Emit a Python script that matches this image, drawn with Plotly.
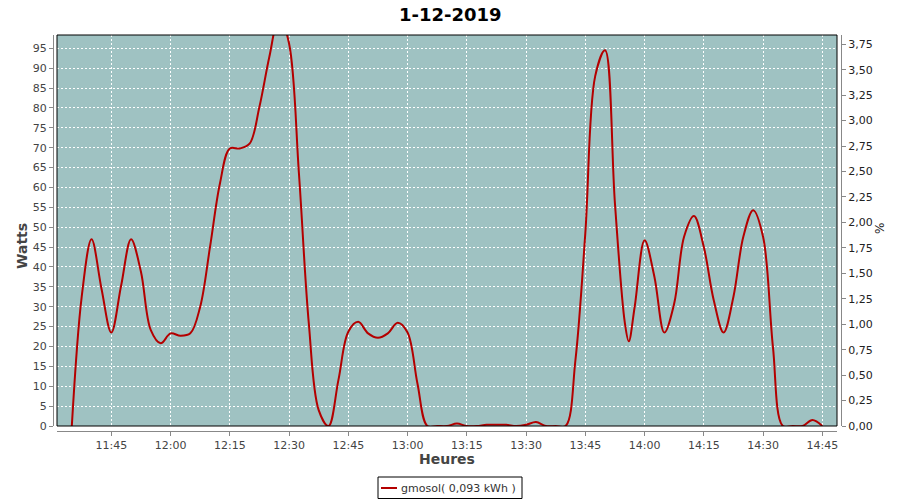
import plotly.graph_objects as go

# ---- data ----
times = [
    "11:35:00", "11:37:30", "11:40:00", "11:42:30", "11:45:00", "11:47:30",
    "11:50:00", "11:52:30", "11:55:00", "11:57:30", "12:00:00", "12:02:30",
    "12:05:00", "12:07:30", "12:10:00", "12:12:30", "12:15:00", "12:17:30",
    "12:20:00", "12:22:30", "12:25:00", "12:27:30", "12:30:00", "12:32:30",
    "12:35:00", "12:37:30", "12:40:00", "12:42:30", "12:45:00", "12:47:30",
    "12:50:00", "12:52:30", "12:55:00", "12:57:30", "13:00:00", "13:02:30",
    "13:05:00", "13:07:30", "13:10:00", "13:12:30", "13:15:00", "13:17:30",
    "13:20:00", "13:22:30", "13:25:00", "13:27:30", "13:30:00", "13:32:30",
    "13:35:00", "13:37:30", "13:40:00", "13:42:30", "13:45:00", "13:47:30",
    "13:50:00", "13:52:30", "13:55:00", "13:56:00", "13:57:30", "14:00:00",
    "14:02:30", "14:05:00", "14:07:30", "14:10:00", "14:12:30", "14:15:00",
    "14:17:30", "14:20:00", "14:22:30", "14:25:00", "14:27:30", "14:30:00",
    "14:32:30", "14:35:00", "14:37:30", "14:40:00", "14:42:30", "14:45:00",
]
watts = [
    0, 32.5, 47, 34.6, 23.5, 35.4,
    47, 38.8, 24.1, 20.8, 23.3, 22.7,
    23.3, 30, 45.1, 61, 69.8, 69.8,
    71, 80.3, 92.8, 103, 96.2, 63.5,
    25.8, 4, 0, 11.6, 23.7, 26.2,
    23.3, 22.2, 23.3, 26, 23.5, 10.7,
    0, 0, 0, 0.6, 0, 0,
    0.3, 0.3, 0.3, 0, 0.3, 1.0,
    0, 0, 0, 16.6, 48.5, 88,
    94.5, 56, 26, 21.3, 30, 46.7,
    37.5, 23.5, 30.8, 47.6, 52.8, 45,
    31.7, 23.5, 32.5, 47.6, 54.3, 47.6,
    19.9, 0, 0, 0, 1.5, 0,
]
series_name = "gmosol( 0,093 kWh )"
title_text = "1-12-2019"
x_tick_times = ["11:45", "12:00", "12:15", "12:30", "12:45", "13:00", "13:15",
                "13:30", "13:45", "14:00", "14:15", "14:30", "14:45"]
day = "2019-12-01"

# ---- layout geometry (pixel targets, converted to paper fractions) ----
W, H = 900, 500
L, R, T, B = 57, 837, 35, 426
xd = [L / W, R / W]
yd = [1 - B / H, 1 - T / H]
px = lambda v: v / W
py = lambda v: 1 - v / H

x_full = [f"{day} {t}" for t in times]
tickvals = [f"{day} {t}:00" for t in x_tick_times]

line_color = "#B40000"

fig = go.Figure()
fig.add_trace(go.Scatter(
    x=x_full, y=watts, mode="lines", name=series_name,
    line=dict(color=line_color, width=2, shape="spline", smoothing=1.0),
    xaxis="x", yaxis="y", showlegend=False,
))
# invisible trace for the right axis
fig.add_trace(go.Scatter(x=[x_full[0]], y=[0], mode="lines", showlegend=False,
                         hoverinfo="skip", line=dict(width=0), xaxis="x", yaxis="y2"))

tickfont = dict(family="DejaVu Sans", size=11, color="#444444")
gridcol = "#FFFFFF"

fig.update_layout(
    width=W, height=H,
    margin=dict(l=0, r=0, t=0, b=0),
    paper_bgcolor="white",
    plot_bgcolor="#9FC2C2",
    separators=",.",
    showlegend=False,
    xaxis=dict(
        domain=xd, anchor="free", position=py(430.5),
        type="date",
        range=[f"{day} 11:31:15", f"{day} 14:48:43"],
        tickmode="array", tickvals=tickvals, ticktext=x_tick_times,
        tickfont=tickfont, ticks="outside", ticklen=4, tickcolor="#888888",
        showline=True, linecolor="#888888", linewidth=1,
        showgrid=True, gridcolor=gridcol, gridwidth=1, griddash="2px,2px",
        zeroline=False, automargin=False,
    ),
    yaxis=dict(
        domain=yd, anchor="free", position=px(53),
        range=[0, 98.35], tickmode="linear", tick0=0, dtick=5,
        tickfont=tickfont, ticks="outside", ticklen=4, tickcolor="#888888",
        showline=True, linecolor="#888888", linewidth=1,
        showgrid=True, gridcolor=gridcol, gridwidth=1, griddash="2px,2px",
        zeroline=False, automargin=False,
    ),
    yaxis2=dict(
        overlaying="y", side="right", anchor="free", position=px(841),
        range=[0, 3.841], tickmode="linear", tick0=0, dtick=0.25,
        tickformat=".2f",
        tickfont=dict(family="DejaVu Sans", size=11, color="#222222"),
        ticks="outside", ticklen=4, tickcolor="#888888",
        showline=True, linecolor="#888888", linewidth=1,
        showgrid=False, zeroline=False, automargin=False,
    ),
    shapes=[
        dict(type="rect", xref="paper", yref="paper",
             x0=xd[0], x1=xd[1], y0=yd[0], y1=yd[1],
             line=dict(color="black", width=1), layer="above"),
        # legend box and line sample
        dict(type="rect", xref="paper", yref="paper",
             x0=px(378), x1=px(522), y0=py(498.5), y1=py(477),
             line=dict(color="black", width=1), fillcolor="white"),
        dict(type="line", xref="paper", yref="paper",
             x0=px(381), x1=px(397), y0=py(488), y1=py(488),
             line=dict(color=line_color, width=2)),
    ],
    annotations=[
        dict(text="<b>" + title_text + "</b>", x=0.5, y=py(14), xref="paper", yref="paper",
             showarrow=False, font=dict(family="DejaVu Sans", size=18, color="black"),
             xanchor="center", yanchor="middle"),
        dict(text="<b>Watts</b>", x=px(22), y=py(246), xref="paper", yref="paper",
             showarrow=False, textangle=-90, font=dict(family="DejaVu Sans", size=14, color="#444444"),
             xanchor="center", yanchor="middle"),
        dict(text="<b>Heures</b>", x=px(447), y=py(459), xref="paper", yref="paper",
             showarrow=False, font=dict(family="DejaVu Sans", size=14, color="#444444"),
             xanchor="center", yanchor="middle"),
        dict(text="%", x=px(880), y=py(229), xref="paper", yref="paper",
             showarrow=False, textangle=-90, font=dict(family="DejaVu Sans", size=12, color="#222222"),
             xanchor="center", yanchor="middle"),
        dict(text=series_name, x=px(399), y=py(488), xref="paper", yref="paper",
             showarrow=False, font=dict(family="DejaVu Sans", size=11, color="#333333"),
             xanchor="left", yanchor="middle"),
    ],
)

fig.write_html("out.html", config={"displayModeBar": False},
               post_script="document.body.style.margin='0';")
